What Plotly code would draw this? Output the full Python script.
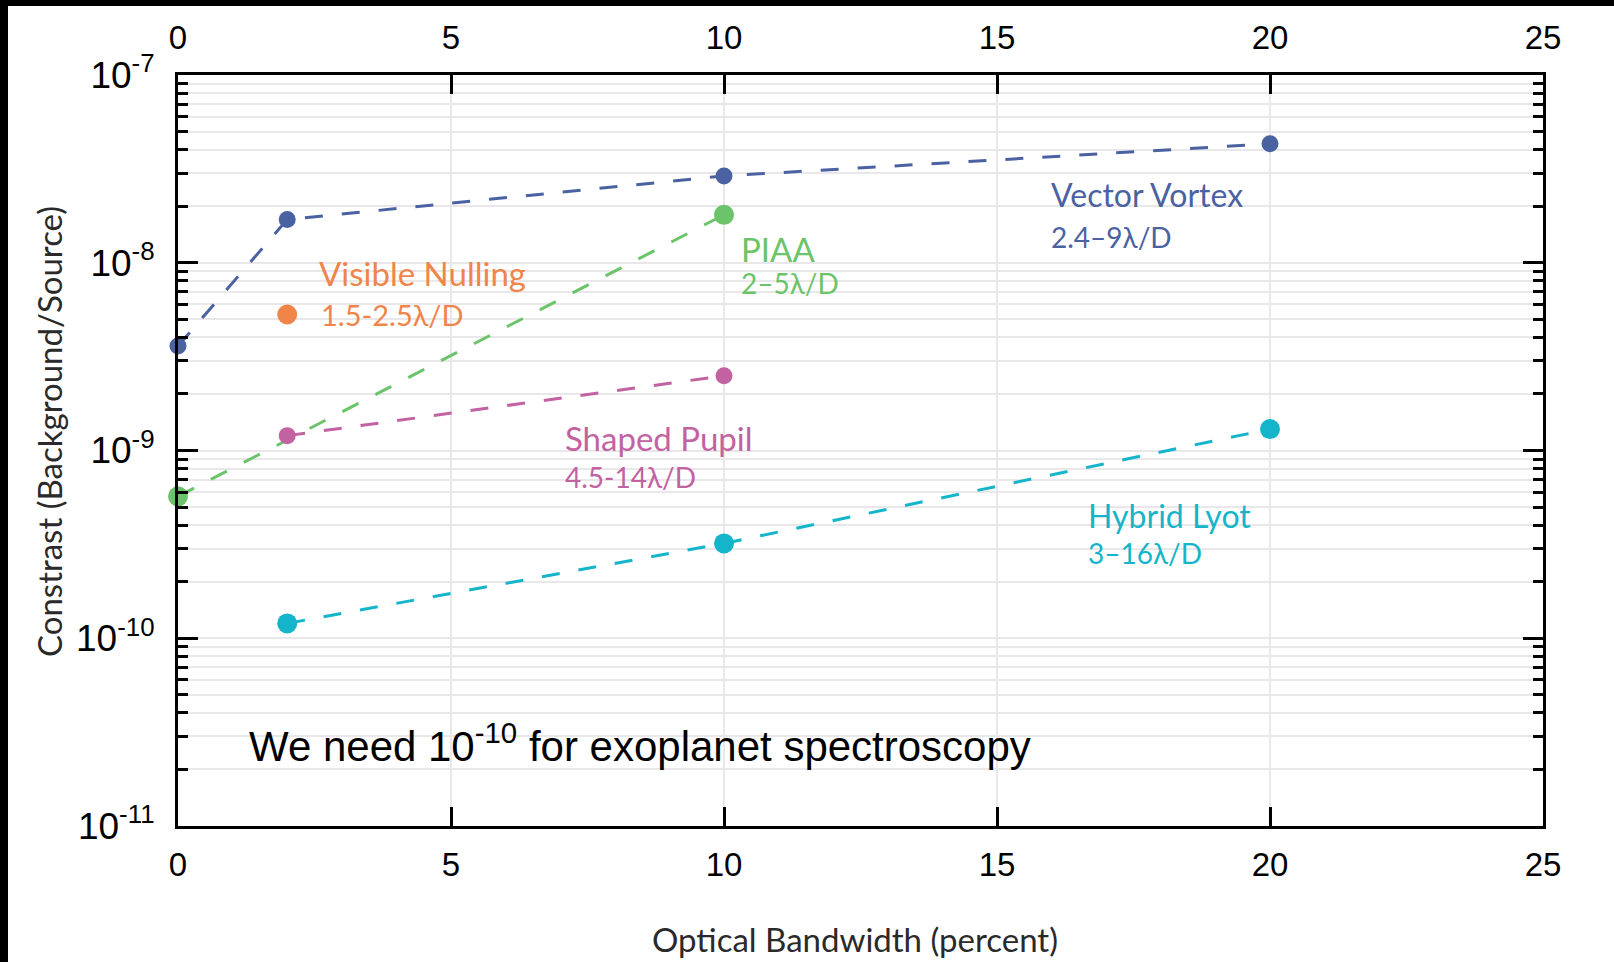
import plotly.graph_objects as go

# Optical bandwidth (percent) and achieved contrast for each coronagraph
vortex_bw = [0, 2, 10, 20]
vortex_contrast = [3.6e-9, 1.7e-8, 2.9e-8, 4.3e-8]

nulling_bw = [2]
nulling_contrast = [5.3e-9]

piaa_bw = [0, 10]
piaa_contrast = [5.7e-10, 1.8e-8]

pupil_bw = [2, 10]
pupil_contrast = [1.2e-9, 2.5e-9]

lyot_bw = [2, 10, 20]
lyot_contrast = [1.2e-10, 3.2e-10, 1.3e-9]

x_ticks = [0, 5, 10, 15, 20, 25]
y_decades = [-11, -10, -9, -8, -7]
y_ticktext = ["10<sup>-11</sup>", "10<sup>-10</sup>", "10<sup>-9</sup>",
              "10<sup>-8</sup>", "10<sup>-7</sup>"]

W, H = 1614, 962
L, R, T, B = 178, 71, 75, 136
PW, PH = W - L - R, H - T - B

C_VORTEX = "#4a62a2"
C_NULL = "#f0854a"
C_PIAA = "#6cc46a"
C_PUPIL = "#c262a1"
C_LYOT = "#14b5cb"

LABEL_FONT = "Lato"
TICK_FONT = "Liberation Sans"

fig = go.Figure()


def series(x, y, color, size, line=True):
    fig.add_trace(go.Scatter(
        x=x, y=y,
        mode="lines+markers" if line else "markers",
        line=dict(color=color, width=3, dash="18px,19px"),
        marker=dict(color=color, size=size),
        cliponaxis=False, showlegend=False, hoverinfo="x+y",
    ))


series(vortex_bw, vortex_contrast, C_VORTEX, 17)
series(piaa_bw, piaa_contrast, C_PIAA, 20)
series(pupil_bw, pupil_contrast, C_PUPIL, 17)
series(lyot_bw, lyot_contrast, C_LYOT, 20)
series(nulling_bw, nulling_contrast, C_NULL, 20, line=False)

# series labels (x in percent, y in log10 units)
labels = [
    ("Visible Nulling", 2.55, -8.055, C_NULL, 33),
    ("1.5-2.5λ/D", 2.58, -8.278, C_NULL, 29),
    ("PIAA", 10.27, -7.927, C_PIAA, 33),
    ("2–5λ/D", 10.27, -8.108, C_PIAA, 28),
    ("Vector Vortex", 15.95, -7.639, C_VORTEX, 32),
    ("2.4–9λ/D", 15.95, -7.863, C_VORTEX, 28),
    ("Shaped Pupil", 7.05, -8.933, C_PUPIL, 33),
    ("4.5-14λ/D", 7.05, -9.141, C_PUPIL, 28),
    ("Hybrid Lyot", 16.63, -9.344, C_LYOT, 32),
    ("3–16λ/D", 16.63, -9.546, C_LYOT, 28),
]
for text, x, y, color, size in labels:
    fig.add_annotation(x=x, y=y, xref="x", yref="y", text=text, showarrow=False,
                       xanchor="left", yanchor="middle",
                       font=dict(family=LABEL_FONT, size=size, color=color))

fig.add_annotation(x=1.27, y=-10.558, xref="x", yref="y",
                   text="We need 10<sup>-10</sup> for exoplanet spectroscopy",
                   showarrow=False, xanchor="left", yanchor="middle",
                   font=dict(family=TICK_FONT, size=42, color="black"))


def px_to_paper(px, py):
    return (px - L) / PW, 1 - (py - T) / PH


# axis titles
tx, ty = px_to_paper(49, 432)
fig.add_annotation(x=tx, y=ty, xref="paper", yref="paper",
                   text="Constrast (Background/Source)", showarrow=False,
                   textangle=-90, xanchor="center", yanchor="middle",
                   font=dict(family=LABEL_FONT, size=33, color="#2a2a2a"))
tx, ty = px_to_paper(855, 939)
fig.add_annotation(x=tx, y=ty, xref="paper", yref="paper",
                   text="Optical Bandwidth (percent)", showarrow=False,
                   xanchor="center", yanchor="middle",
                   font=dict(family=LABEL_FONT, size=33, color="#2a2a2a"))

# black frame strips along the left and top edges of the page
x0, y0 = px_to_paper(0, 0)
x1, y1 = px_to_paper(8, H)
fig.add_shape(type="rect", xref="paper", yref="paper", x0=x0, x1=x1, y0=y1, y1=y0,
              fillcolor="black", line_width=0, layer="above")
x1b, y1b = px_to_paper(W, 6)
fig.add_shape(type="rect", xref="paper", yref="paper", x0=x0, x1=x1b, y0=y1b, y1=y0,
              fillcolor="black", line_width=0, layer="above")

minor_vals = [m * 10 ** d for d in y_decades[:-1] for m in range(2, 10)]
grid_col = "#e9e7e9"

common_x = dict(range=[0, 25], tickvals=x_ticks, ticks="inside", ticklen=19,
                tickwidth=2.7, tickcolor="black", showline=True, linecolor="black",
                linewidth=3, zeroline=False,
                tickfont=dict(family=TICK_FONT, size=33, color="black"))

common_y = dict(type="log", range=[-11, -7],
                tickvals=[10.0 ** d for d in y_decades],
                ticks="inside", ticklen=20, tickwidth=2.7, tickcolor="black",
                showline=True, linecolor="black", linewidth=3, zeroline=False,
                tickfont=dict(family=TICK_FONT, size=37, color="black"))

fig.update_layout(
    width=W, height=H,
    margin=dict(l=L, r=R, t=T, b=B, pad=0),
    paper_bgcolor="white", plot_bgcolor="white",
    xaxis=dict(**common_x, showgrid=True, gridcolor=grid_col, gridwidth=1.5,
               ticklabelstandoff=7),
    xaxis2=dict(**common_x, overlaying="x", side="top", anchor="y",
                showgrid=False, ticklabelstandoff=10),
    yaxis=dict(**common_y, ticktext=y_ticktext, showgrid=True, gridcolor=grid_col,
               gridwidth=1.5, ticklabelstandoff=13,
               minor=dict(tickvals=minor_vals, ticks="inside", ticklen=10,
                          tickwidth=2.7, tickcolor="black", showgrid=True,
                          gridcolor=grid_col, gridwidth=1.5)),
    yaxis2=dict(**common_y, overlaying="y", side="right", anchor="x",
                showticklabels=False, showgrid=False,
                minor=dict(tickvals=minor_vals, ticks="inside", ticklen=10,
                           tickwidth=2.7, tickcolor="black", showgrid=False)),
)
# empty traces bind the top and right axes so they are drawn
fig.add_trace(go.Scatter(x=[None], y=[None], xaxis="x2", yaxis="y",
                         showlegend=False, hoverinfo="skip"))
fig.add_trace(go.Scatter(x=[None], y=[None], xaxis="x", yaxis="y2",
                         showlegend=False, hoverinfo="skip"))

fig.write_html("out.html")
